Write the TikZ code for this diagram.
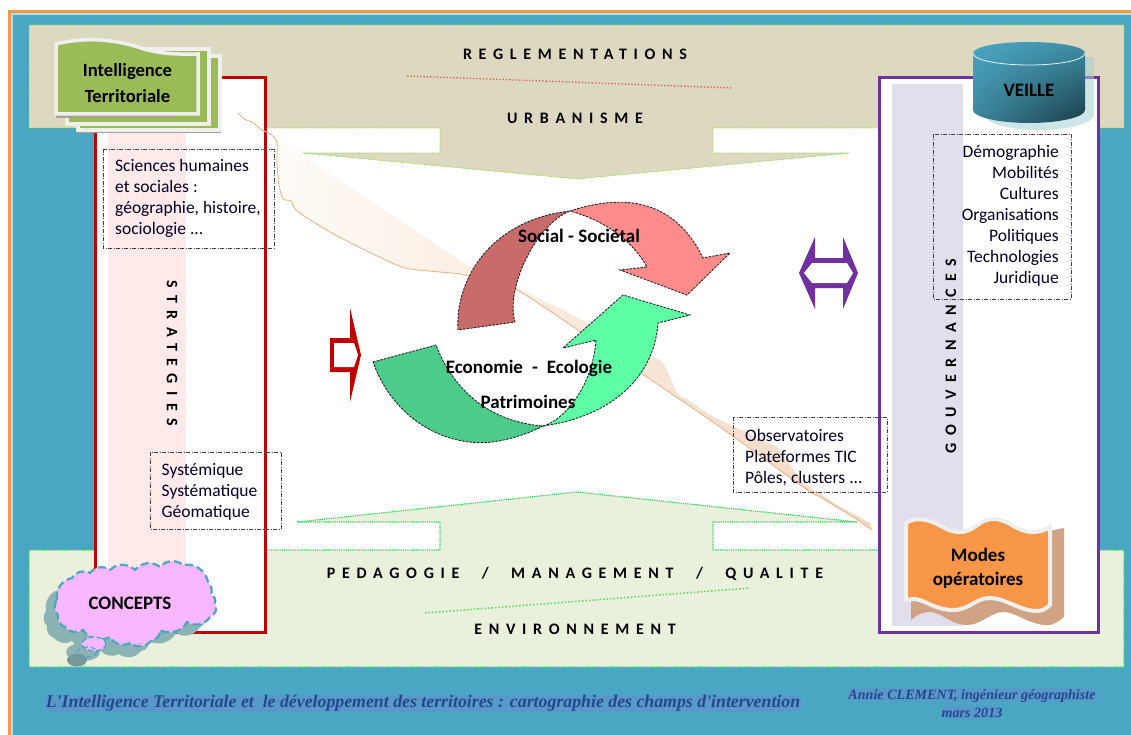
\documentclass[tikz,border=0pt]{standalone}
\usepackage{fontspec}
\setmainfont{Carlito}
\newfontfamily\spacedfont[LetterSpace=42]{Carlito}
\newfontfamily\widefont[LetterSpace=47]{Carlito}
\newfontfamily\footfont{Liberation Serif}
\usetikzlibrary{calc,shadings}
\definecolor{tealbg}{HTML}{4AA7C3}
\definecolor{beigeb}{HTML}{DDD8C0}
\definecolor{palegreen}{HTML}{E9F0DB}
\definecolor{redbox}{HTML}{C00000}
\definecolor{purplebox}{HTML}{7030A0}
\definecolor{pinkband}{HTML}{FFE9E9}
\definecolor{purpleband}{HTML}{E3DEEB}
\definecolor{peachline}{HTML}{E9B78F}
\definecolor{sheetgreen}{HTML}{9BBB59}
\definecolor{sheetedge}{HTML}{EFEFEF}
\definecolor{sheetshadow}{HTML}{A5A58E}
\definecolor{orangew}{HTML}{F79646}
\definecolor{tanshadow}{HTML}{CFA383}
\definecolor{cloudpink}{HTML}{F9B7FF}
\definecolor{cloudshadow}{HTML}{8CB3B4}
\definecolor{footblue}{HTML}{24478F}
\definecolor{footglow}{HTML}{5F94CC}
\definecolor{swirlbrown}{HTML}{C96B6B}
\definecolor{swirlpink}{HTML}{FF8B8B}
\definecolor{swirldark}{HTML}{4DCB8A}
\definecolor{swirllight}{HTML}{5FFFA8}
\newcommand{\cloudoutline}{(57,600) to[bend left=45] (72,578) to[bend left=45] (90,573) to[bend left=45] (110,570) to[bend left=45] (135,570) to[bend left=45] (160,567) to[bend left=45] (183,565) to[bend left=45] (208,582) to[bend left=30] (211,595) to[bend left=45] (215,603) to[bend left=50] (210,617) to[bend left=45] (187,622) to[bend left=45] (160,630) to[bend left=45] (152,640) to[bend left=45] (130,643) to[bend left=45] (110,637) to[bend left=40] (83,630) to[bend left=40] (65,627) to[bend left=40] (58,615) to[bend left=40] (57,600) -- cycle}
\newcommand{\sheetoutline}{(0,5) .. controls (32,-3) and (62,1) .. (88,10) .. controls (110,16) and (125,15) .. (142,15) -- (142,75) -- (0,75) -- cycle}
\newcommand{\ribbonlower}{plot[smooth,tension=.45] coordinates {(238,113) (244,119) (252,122) (262,130) (272,135) (277,143) (277,165) (279,185) (283,199) (291,201) (297,211) (330,232) (375,255) (405,268) (440,272) (465,275) (517,290) (620,359) (720,427) (803,487) (820,497) (853,517) (872,530)}}
\tikzset{
  x=1pt,y=-1pt,
  dashbox/.style={draw=black!75,line width=.8pt,dash pattern=on 4pt off 1.5pt on 1pt off 1.5pt},
  boxtext/.style={font=\fontsize{17.5}{21}\selectfont,text=black!85!blue,inner sep=0pt},
  bandlabel/.style={font=\spacedfont\bfseries\fontsize{16}{18}\selectfont,inner sep=0pt,text=black},
  vertlabel/.style={font=\widefont\bfseries\fontsize{16}{18}\selectfont,inner sep=0pt,text=black},
  shapelabel/.style={font=\bfseries\fontsize{19}{25}\selectfont,inner sep=0pt,align=center,text=black},
  swirl/.style={draw=black!85,line width=.9pt,dash pattern=on 2.5pt off 1.2pt},
  sheet/.style={fill=sheetgreen,draw=sheetedge,line width=3.5pt,line join=miter},
  footmain/.style={font=\footfont\bfseries\itshape\fontsize{17.8}{18}\selectfont,text=footblue,inner sep=0pt},
  footside/.style={font=\footfont\bfseries\itshape\fontsize{14.1}{18}\selectfont,text=footblue,inner sep=0pt,align=center},
  glow/.style={fill=footglow,opacity=.7,rounded corners=5pt}
}
\begin{document}
\begin{tikzpicture}
\useasboundingbox (0,0) rectangle (1131,735);
% frame
\fill[white] (0,0) rectangle (1131,735);
\fill[tealbg] (9,11) rectangle (1131,735);
\draw[orangew,line width=2.4pt] (9.5,735) -- (9.5,11.5) -- (1131,11.5);
\draw[cyan!35,line width=1.3pt] (12,735) -- (12,14) -- (1131,14);
% centre
\fill[white] (265,128) rectangle (880,550);
% top band with arrow
\path[fill=beigeb,draw=green!55!yellow!70!gray,line width=.7pt,densely dotted]
 (29,25) -- (1124,25) -- (1124,128) -- (713,128) -- (713,153) -- (850,153) -- (577,179) -- (303,153) -- (440,153) -- (440,128) -- (29,128) -- cycle;
% bottom band with arrow
\path[fill=palegreen,draw=green!60!teal!80,line width=1.2pt,densely dotted]
 (29,667) -- (1124,667) -- (1124,550) -- (713,550) -- (713,522) -- (857,522) -- (577,492) -- (297,522) -- (440,522) -- (440,550) -- (29,550) -- cycle;
\draw[red!60!beigeb,line width=1.3pt,dotted] (407,76) -- (732,88);
\draw[green!65!gray!80,line width=1.5pt,dotted] (425,613) -- (750,588);
% side boxes
\draw[redbox,line width=3pt,fill=white] (95,78) rectangle (265,632);
\fill[pinkband] (108,100) rectangle (186,630);
\draw[purplebox,line width=3pt,fill=white] (879,78) rectangle (1098,632);
\fill[purpleband] (892,84) rectangle (963,626);
% ribbon
\shade[left color=white!98!orange,right color=peachline!55!white]
 \ribbonlower -- (870,523) -- (837,505) -- (803,483) -- (777,447) -- (720,420) -- (707,413) -- (688,400) -- (678,395) -- (663,362) -- (587,323) -- (563,310) -- (517,288) -- (467,265) -- (278,140) -- cycle;
\draw[peachline,line width=.9pt,line join=round] \ribbonlower;
% swirl arrows
\path[swirl,fill=swirlpink] (570,211) .. controls (610,198) and (670,190) .. (703,258) -- (730,253) -- (687,295) -- (620,270) -- (647,267) .. controls (635,245) and (610,222) .. (570,211) -- cycle;
\path[swirl,fill=swirlbrown] (458,330) .. controls (455,280) and (490,220) .. (570,211) .. controls (535,225) and (505,290) .. (515,322) -- cycle;
\path[swirl,fill=swirllight] (543,426) .. controls (565,420) and (593,385) .. (596,340) -- (563,348) -- (623,295) -- (690,315) -- (658,323) .. controls (655,370) and (620,415) .. (543,426) -- cycle;
\path[swirl,fill=swirldark] (373,362) -- (436,345) .. controls (453,390) and (490,422) .. (543,426) .. controls (520,438) and (490,445) .. (470,442) .. controls (430,438) and (390,410) .. (373,362) -- cycle;
% side arrows
\fill[redbox] (330,338) -- (350,338) -- (350,308) -- (361,355) -- (350,402) -- (350,372) -- (330,372) -- cycle;
\fill[white] (334,343) -- (354,343) -- (358,355) -- (354,367) -- (334,367) -- cycle;
\fill[purplebox] (799,273) -- (815,237) -- (815,258) -- (843,258) -- (843,237) -- (858,273) -- (843,309) -- (843,288) -- (815,288) -- (815,309) -- cycle;
\fill[white] (804,273) -- (812,263) -- (847,263) -- (853,273) -- (847,283) -- (812,283) -- cycle;
% stacked sheets
\begin{scope}[shift={(78,56)}]
 \fill[sheetshadow] (-1,2) rectangle (143,77.5);
 \path[sheet] (0,0) rectangle (142,74);
\end{scope}
\begin{scope}[shift={(67,49)}]
 \fill[sheetshadow] (0,70) rectangle (141,77);
 \path[sheet] (0,0) rectangle (142,75);
\end{scope}
\begin{scope}[shift={(56,39)}]
 \fill[sheetshadow] (0,70) rectangle (120,79);
 \path[sheet] \sheetoutline;
\end{scope}
\node[shapelabel,font=\bfseries\fontsize{18.6}{26}\selectfont] (it) at (127.5,83) {Intelligence\\Territoriale};
% cylinder
\fill[cyan!30!beigeb,opacity=.55] (985,57) -- (1094,57) -- (1094,115) .. controls (1094,123) and (1070,130) .. (1039,130) .. controls (1008,130) and (985,123) .. (985,115) -- cycle;
\shade[upper left=tealbg,upper right=tealbg!85!black,lower left=tealbg!80!black,lower right=tealbg!35!black]
 (973,53) -- (973,110) .. controls (973,117) and (998,123) .. (1029,123) .. controls (1060,123) and (1085,117) .. (1085,110) -- (1085,53) .. controls (1085,47) and (1060,42) .. (1029,42) .. controls (998,42) and (973,47) .. (973,53) -- cycle;
\draw[white!85!tealbg,line width=.8pt] (973,53) .. controls (973,60) and (998,65) .. (1029,65) .. controls (1060,65) and (1085,60) .. (1085,53);
\node[shapelabel] (veille) at (1029,90) {VEILLE};
% wave book
\fill[tanshadow] (911,560) -- (1064,528) -- (1064,617) .. controls (1055,625) and (1048,626) .. (1043,625) .. controls (1025,622) and (1015,612) .. (1003,612) .. controls (990,612) and (982,625) .. (967,625) .. controls (950,625) and (942,612) .. (930,612) .. controls (922,612) and (917,615) .. (911,620) -- cycle;
\path[fill=orangew,draw=sheetedge,line width=4pt,line join=miter]
 (906,523) .. controls (915,517) and (925,519) .. (935,523) .. controls (945,528) and (950,532) .. (960,532) .. controls (975,532) and (978,519) .. (993,519) .. controls (1010,519) and (1015,532) .. (1033,532) .. controls (1040,532) and (1045,530) .. (1050,527) -- (1050,605) .. controls (1045,610) and (1040,611) .. (1037,611) .. controls (1020,611) and (1005,598) .. (990,598) .. controls (975,598) and (970,610) .. (953,610) .. controls (935,610) and (925,600) .. (915,599) .. controls (911,599) and (908,600) .. (906,600) -- cycle;
\node[shapelabel,font=\bfseries\fontsize{19}{24}\selectfont] (modes) at (978,568.5) {Modes\\opératoires};
% cloud
\begin{scope}[shift={(-11,11)}]
 \fill[cloudshadow] \cloudoutline;
\end{scope}
\fill[cloudshadow] (83,652) ellipse[x radius=17,y radius=9];
\fill[cloudshadow!85!black] (77,660) ellipse[x radius=10,y radius=6.5];
\path[fill=cloudpink,draw=tealbg,line width=2.2pt,dash pattern=on 8pt off 4pt] \cloudoutline;
\path[fill=cloudpink,draw=tealbg,line width=1.4pt,dash pattern=on 5pt off 3pt] (94,644) ellipse[x radius=12,y radius=7];
\path[draw=tealbg,line width=1.2pt,dash pattern=on 5pt off 3pt] (87,652) ellipse[x radius=10,y radius=5];
\node[shapelabel] (concepts) at (130,603) {CONCEPTS};
% dashed text boxes
\draw[dashbox] (103,149) rectangle (274,248);
\node[boxtext,anchor=north west,align=left] (sci) at (115,159) {Sciences humaines\\et sociales :\\géographie, histoire,\\sociologie ...};
\draw[dashbox] (150,452) rectangle (281,529);
\node[boxtext,anchor=north west,align=left] (sys) at (161.5,463) {Systémique\\Systématique\\Géomatique};
\draw[dashbox] (933,134) rectangle (1071,299);
\node[boxtext,anchor=north east,align=right] (dem) at (1059,145.5) {Démographie\\Mobilités\\Cultures\\Organisations\\Politiques\\Technologies\\Juridique};
\draw[dashbox] (733,417) rectangle (887,492);
\node[boxtext,anchor=north west,align=left] (obs) at (745,429) {Observatoires\\Plateformes TIC\\Pôles, clusters ...};
% band labels
\node[bandlabel] (regl) at (575,54) {REGLEMENTATIONS};
\node[bandlabel] (urb) at (575,118) {URBANISME};
\node[bandlabel] (ped) at (575,574) {PEDAGOGIE\hspace{1.4em}/\hspace{1.4em}MANAGEMENT\hspace{1.4em}/\hspace{1.4em}QUALITE};
\node[bandlabel] (env) at (575,629) {ENVIRONNEMENT};
\node[vertlabel,rotate=-90] (strat) at (172,353) {STRATEGIES};
\node[vertlabel,rotate=90] (gouv) at (951,356) {GOUVERNANCES};
% swirl labels
\node[shapelabel] (soc) at (579,236) {Social - Sociétal};
\node[shapelabel] (eco) at (529,368) {Economie\hspace{.25em} - \hspace{.25em}Ecologie};
\node[shapelabel] (pat) at (528,402) {Patrimoines};
% footer
\fill[glow] (45,695) rectangle (801,712);
\node[footmain] (f1) at (423,703) {L'Intelligence Territoriale et\hspace{.5em}le développement des territoires : cartographie des champs d'intervention};
\fill[glow] (848,688) rectangle (1096,701);
\fill[glow] (942,706) rectangle (1002,719);
\node[footside] (f2) at (972,704) {Annie CLEMENT, ingénieur géographiste\\mars 2013};
\end{tikzpicture}
\end{document}
